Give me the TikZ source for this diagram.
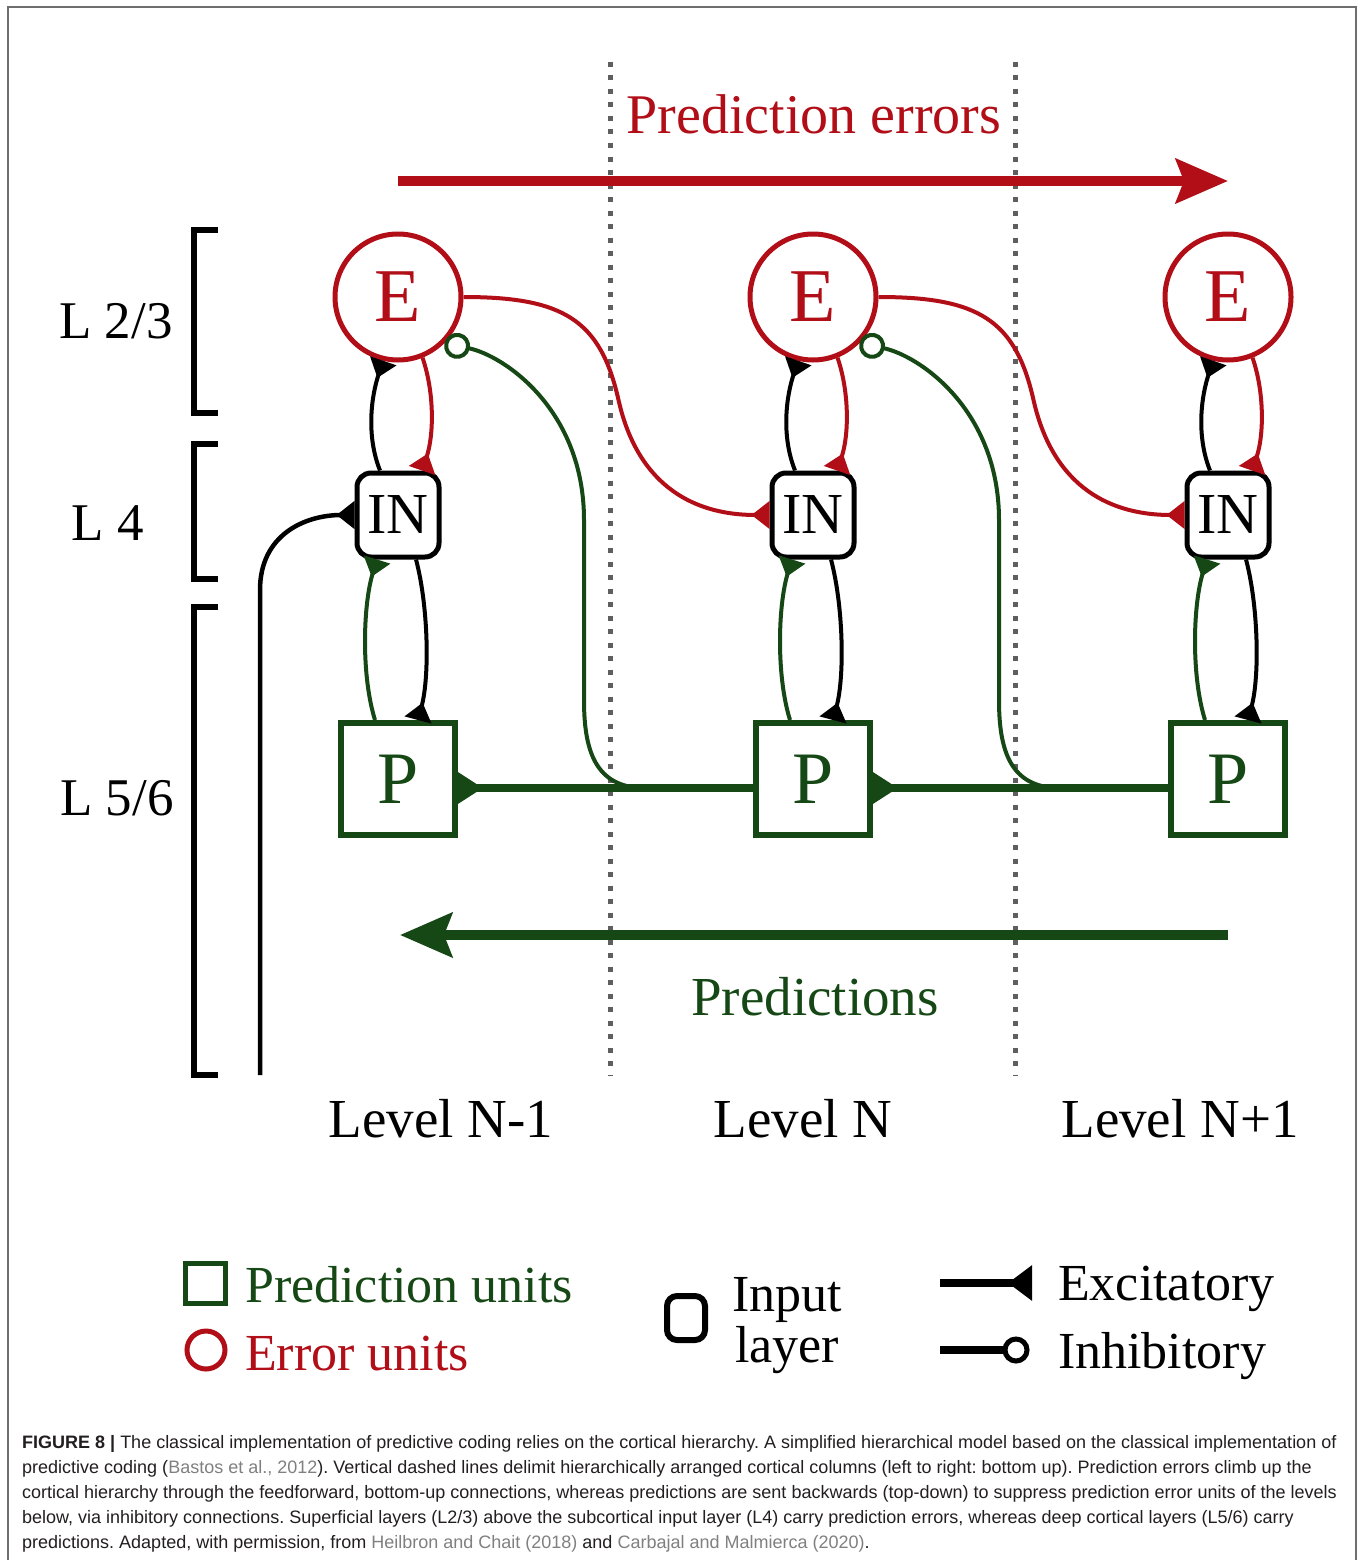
\documentclass[tikz,border=0pt]{standalone}
\usepackage{fontspec}
\setmainfont{Liberation Serif}
\newfontfamily\capfont{Liberation Sans}
\usetikzlibrary{arrows.meta,calc}
\definecolor{ered}{RGB}{178,14,24}
\definecolor{pgreen}{RGB}{22,72,22}
\definecolor{dotgray}{RGB}{95,95,95}
\definecolor{framegray}{RGB}{110,110,110}
\definecolor{citegray}{RGB}{128,128,128}
\definecolor{capblack}{RGB}{35,31,32}
\newcommand\fs[1]{\fontsize{#1}{#1}\selectfont}
\newcommand\gcite[1]{{\color{citegray}#1}}
\frenchspacing
\begin{document}
\begin{tikzpicture}[x=1pt,y=-1pt,
  errunit/.style={circle,draw=ered,line width=5pt,minimum size=126pt,inner sep=0pt,text=ered,font=\fs{76}},
  inunit/.style={rectangle,rounded corners=14pt,draw=black,line width=5pt,minimum width=82pt,minimum height=84pt,inner sep=0pt,font=\fs{58}},
  predunit/.style={rectangle,draw=pgreen,line width=6pt,minimum width=114pt,minimum height=112pt,inner sep=0pt,text=pgreen,font=\fs{74}},
  conn/.style={line width=4pt},
  excit/.style={-{Triangle[reversed,length=18pt,width=27pt]}},
  inhib/.style={-{Circle[open,length=26pt,width=26pt]}},
  bigtip/.style={-{Stealth[length=52pt,width=44pt,inset=8pt]}},
  lbl/.style={inner sep=0pt,anchor=base,font=\fs{55}},
  leg/.style={inner sep=0pt,anchor=base west,font=\fs{52}},
  captext/.style={inner sep=0pt,anchor=base west,font=\capfont\fs{18},text=capblack},
  brk/.style={line width=6pt,line join=miter},
  dotline/.style={dotgray,line width=5pt,dash pattern=on 5pt off 8.5pt}
]
\useasboundingbox (0,0) rectangle (1363,1560);
\fill[white] (0,0) rectangle (1363,1560);
\draw[framegray,line width=2pt] (8,7) rectangle (1356,1620);

% dotted column separators
\coordinate (d1a) at (610,62); \coordinate (d1b) at (610,1075);
\coordinate (d2a) at (1015,62); \coordinate (d2b) at (1015,1075);
\draw[dotline] (d1a) -- (d1b);
\draw[dotline] (d2a) -- (d2b);

% titles and big arrows
\node[lbl,text=ered,font=\fs{56}] (tpe) at (814,133) {Prediction errors};
\coordinate (pe1) at (398,181); \coordinate (pe2) at (1228,181);
\draw[ered,line width=10pt,bigtip] (pe1) -- (pe2);
\coordinate (pr1) at (1228,935); \coordinate (pr2) at (400,935);
\draw[pgreen,line width=10pt,bigtip] (pr1) -- (pr2);
\node[lbl,text=pgreen] (tpr) at (815,1015) {Predictions};

% layer brackets and labels
\draw[brk] (218,230) -- (194,230) -- (194,413) -- (218,413);
\draw[brk] (218,444) -- (194,444) -- (194,579) -- (218,579);
\draw[brk] (218,607) -- (194,607) -- (194,1075) -- (218,1075);
\node[lbl,font=\fs{53}] (l23) at (116,338) {L 2/3};
\node[lbl,font=\fs{53}] (l4) at (108,540) {L 4};
\node[lbl,font=\fs{53}] (l56) at (117,815) {L 5/6};

% units
\foreach \i/\x in {1/398,2/813,3/1228} {
  \node[errunit] (e\i) at (\x,297) {E};
  \node[inunit] (in\i) at (\x,515) {IN};
  \node[predunit] (p\i) at (\x,779) {P};
}

% local loops in each column
\foreach \i in {1,2,3} {
  \draw[conn,excit] ([xshift=-18pt]in\i.north) .. controls +(-14,-35) and +(-12,35) .. (e\i.-103);
  \draw[conn,ered,excit] (e\i.-68) .. controls +(12,35) and +(12,-35) .. ([xshift=24pt]in\i.north);
  \draw[conn,pgreen,excit] ([xshift=-23pt]p\i.north) .. controls +(-14,-45) and +(-14,45) .. ([xshift=-21pt]in\i.south);
  \draw[conn,excit] ([xshift=18pt]in\i.south) .. controls +(12,45) and +(12,-45) .. ([xshift=20pt]p\i.north);
}

% between columns
\foreach \i/\j in {1/2,2/3} {
  % prediction errors forward
  \draw[conn,ered,excit] (e\i.east) .. controls +(100,0) and +(-18,-80) .. ++(155,103)
        .. controls +(18,80) and +(-82,0) .. (in\j.west);
  % predictions backward
  \draw[pgreen,line width=8pt,-{Triangle[reversed,length=25pt,width=30pt]}]
        ($(p\j.west)+(0,9)$) -- ($(p\i.east)+(0,9)$);
  \coordinate (jn\i) at ($(p\j.west)+(-108,9)$);
  \draw[conn,pgreen,inhib] (jn\i) .. controls +(-50,0) and +(0,50) .. ++(-61,-88) -- ++(0,-180)
        .. controls +(0,-110) and +(60,12) .. (e\i.-45);
}

% sensory input
\coordinate (inp) at (260,1075);
\draw[line width=4.5pt,excit] (inp) -- ++(0,-485) .. controls +(0,-55) and +(-50,0) .. (in1.west);

% level labels
\node[lbl] (lv1) at (441,1137) {Level N-1};
\node[lbl] (lv2) at (803,1137) {Level N};
\node[lbl] (lv3) at (1180,1137) {Level N+1};

% legend
\node[draw=pgreen,line width=5pt,minimum size=40pt,inner sep=0pt] (lsq) at (205,1283) {};
\node[leg,text=pgreen] (tsq) at (245,1302) {Prediction units};
\node[circle,draw=ered,line width=5pt,minimum size=38pt,inner sep=0pt] (lci) at (206,1350) {};
\node[leg,text=ered] (tci) at (245,1370) {Error units};
\node[draw=black,rounded corners=10pt,line width=6pt,minimum width=38pt,minimum height=44pt,inner sep=0pt] (lin) at (686,1318) {};
\node[lbl,font=\fs{52}] (tin1) at (787,1311) {Input};
\node[lbl,font=\fs{52}] (tin2) at (787,1362) {layer};
\coordinate (lex1) at (940,1283); \coordinate (lex2) at (1032,1283);
\draw[line width=8pt,-{Triangle[reversed,length=24pt,width=34pt]}] (lex1) -- (lex2);
\node[leg] (tex) at (1058,1300) {Excitatory};
\coordinate (lih1) at (940,1350);
\node[circle,draw=black,line width=5pt,minimum size=22pt,inner sep=0pt] (lihc) at (1016,1350) {};
\draw[line width=8pt] (lih1) -- (lihc.west);
\node[leg] (tih) at (1058,1368) {Inhibitory};

% caption
\node[captext] (c1) at (22,1448) {\textbf{FIGURE 8 |} The classical implementation of predictive coding relies on the cortical hierarchy. A simplified hierarchical model based on the classical implementation of};
\node[captext] (c2) at (22,1473) {predictive coding (\gcite{Bastos et al., 2012}). Vertical dashed lines delimit hierarchically arranged cortical columns (left to right: bottom up). Prediction errors climb up the};
\node[captext] (c3) at (22,1498) {cortical hierarchy through the feedforward, bottom-up connections, whereas predictions are sent backwards (top-down) to suppress prediction error units of the levels};
\node[captext] (c4) at (22,1523) {below, via inhibitory connections. Superficial layers (L2/3) above the subcortical input layer (L4) carry prediction errors, whereas deep cortical layers (L5/6) carry};
\node[captext] (c5) at (22,1548) {predictions. Adapted, with permission, from \gcite{Heilbron and Chait (2018)} and \gcite{Carbajal and Malmierca (2020)}.};
\end{tikzpicture}
\end{document}
